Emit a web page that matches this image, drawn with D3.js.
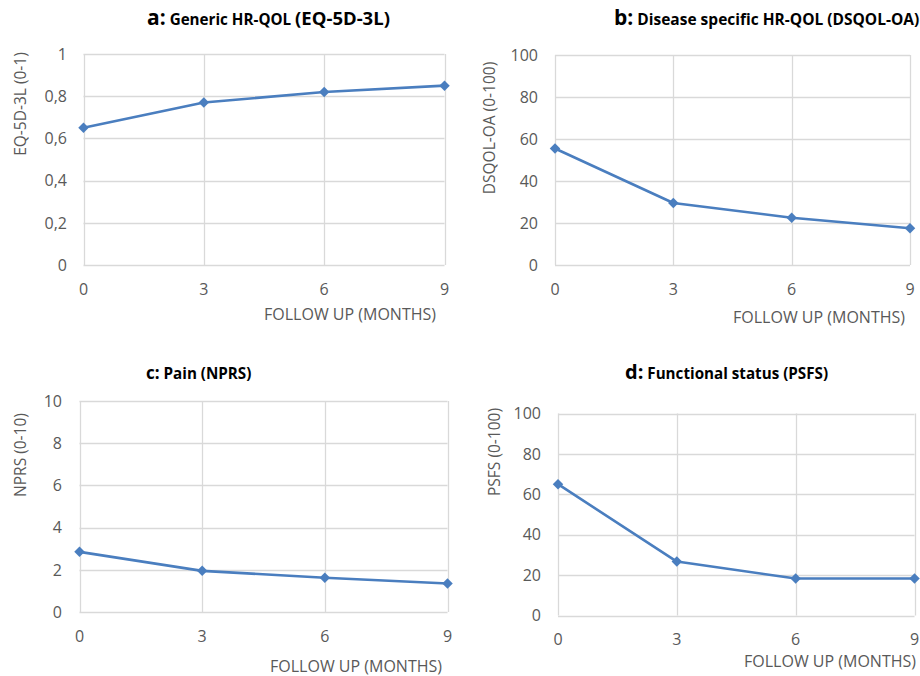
<!DOCTYPE html>
<html><head><meta charset="utf-8">
<script src="https://cdn.jsdelivr.net/npm/d3@7"></script>
<style>
body{margin:0;background:#fff;}
text{font-family:"Open Sans",sans-serif;}
</style></head>
<body><svg id="c" width="920" height="676"></svg>
<script>
const months = [0, 3, 6, 9];
const eq5d = [0.65, 0.77, 0.82, 0.85];
const dsqol = [55.5, 29.5, 22.5, 17.5];
const nprs = [2.85, 1.95, 1.62, 1.35];
const psfs = [65, 26.7, 18.3, 18.3];
const yTicksA = [0, 0.2, 0.4, 0.6, 0.8, 1];
const yTicksB = [0, 20, 40, 60, 80, 100];
const yTicksC = [0, 2, 4, 6, 8, 10];
const yTicksD = [0, 20, 40, 60, 80, 100];
const xTitle = "FOLLOW UP (MONTHS)";

const panels = [
  {values: eq5d, ticks: yTicksA, max: 1, fmt: d => String(d).replace('.', ','),
   yTitle: "EQ-5D-3L (0-1)", box: [83.5, 444.5, 54, 265], yTitleX: 20, yTitleY: 104,
   xTitleX: 436, xTitleY: 320, tickLabelX: 67,
   title: [["a:", 21], [" Generic HR-QOL ", 15.2], ["(EQ-5D-3L)", 18.5]], titleX: 147, titleY: 25},
  {values: dsqol, ticks: yTicksB, max: 100, fmt: d => String(d),
   yTitle: "DSQOL-OA (0-100)", box: [555, 910, 55, 265], yTitleX: 489, yTitleY: 128,
   xTitleX: 905, xTitleY: 323, tickLabelX: 538,
   title: [["b:", 21], [" Disease specific HR-QOL (DSQOL-OA)", 15.5]], titleX: 614, titleY: 25},
  {values: nprs, ticks: yTicksC, max: 10, fmt: d => String(d),
   yTitle: "NPRS (0-10)", box: [79.5, 447.5, 401, 612], yTitleX: 20, yTitleY: 455,
   xTitleX: 442, xTitleY: 672, tickLabelX: 62,
   title: [["c:", 17], [" Pain (NPRS)", 15.2]], titleX: 146, titleY: 379},
  {values: psfs, ticks: yTicksD, max: 100, fmt: d => String(d),
   yTitle: "PSFS (0-100)", box: [558, 914.5, 413.5, 615.5], yTitleX: 494, yTitleY: 452,
   xTitleX: 916, xTitleY: 667, tickLabelX: 541,
   title: [["d:", 20], [" Functional status (PSFS)", 15.2]], titleX: 625, titleY: 379}
];

const svg = d3.select("#c");
const gray = "#595959", grid = "#d9d9d9", blue = "#4a7ebf";

panels.forEach(p => {
  const [x0, x1, y0, y1] = p.box;
  const x = d3.scaleLinear().domain([0, 9]).range([x0, x1]);
  const y = d3.scaleLinear().domain([0, p.max]).range([y1, y0]);
  const g = svg.append("g");

  g.selectAll(".hg").data(p.ticks).join("line")
    .attr("x1", x0).attr("x2", x1)
    .attr("y1", d => Math.round(y(d)) + 0.5).attr("y2", d => Math.round(y(d)) + 0.5)
    .attr("stroke", grid).attr("stroke-width", 1.3);
  g.selectAll(".vg").data(months).join("line")
    .attr("y1", y0).attr("y2", y1)
    .attr("x1", d => Math.round(x(d)) + 0.5).attr("x2", d => Math.round(x(d)) + 0.5)
    .attr("stroke", grid).attr("stroke-width", 1.3);

  g.selectAll(".yl").data(p.ticks).join("text")
    .attr("x", p.tickLabelX).attr("y", d => y(d)).attr("dy", "0.36em")
    .attr("text-anchor", "end").attr("fill", gray).attr("font-size", 16)
    .text(p.fmt);
  g.selectAll(".xl").data(months).join("text")
    .attr("x", d => x(d)).attr("y", y1 + 24).attr("dy", "0.36em")
    .attr("text-anchor", "middle").attr("fill", gray).attr("font-size", 16)
    .text(d => d);

  g.append("text").attr("x", p.xTitleX).attr("y", p.xTitleY)
    .attr("text-anchor", "end").attr("fill", gray).attr("font-size", 16).text(xTitle);
  g.append("text")
    .attr("transform", `translate(${p.yTitleX},${p.yTitleY}) rotate(-90)`)
    .attr("dy", "0.36em").attr("text-anchor", "middle")
    .attr("fill", gray).attr("font-size", 15.5).text(p.yTitle);

  const t = g.append("text").attr("x", p.titleX).attr("y", p.titleY)
    .attr("font-weight", "bold").attr("fill", "#000");
  p.title.forEach(([s, fs]) => t.append("tspan").attr("font-size", fs).text(s));

  const pts = months.map((m, i) => [m, p.values[i]]);
  g.append("path").datum(pts)
    .attr("d", d3.line().x(d => x(d[0])).y(d => y(d[1])))
    .attr("fill", "none").attr("stroke", blue).attr("stroke-width", 2.6)
    .attr("stroke-linejoin", "round");
  g.selectAll(".mk").data(pts).join("path")
    .attr("d", d3.symbol().type(d3.symbolSquare).size(55))
    .attr("transform", d => `translate(${x(d[0])},${y(d[1])}) rotate(45)`)
    .attr("fill", blue);
});
</script></body></html>
